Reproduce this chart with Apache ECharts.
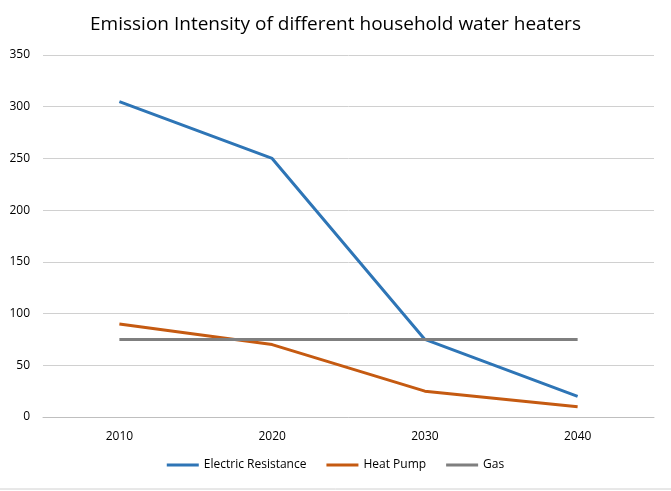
<!DOCTYPE html>
<html>
<head>
<meta charset="utf-8">
<script src="https://cdn.jsdelivr.net/npm/echarts@6/dist/echarts.min.js"></script>
</head>
<body style="margin: 0; padding: 0; background: #fff;">
<div id="chart" style="width: 671px; height: 491px;"></div>
<script>
  const years = ['2010', '2020', '2030', '2040']
  const electricResistance = [305, 250, 75, 20]
  const heatPump = [90, 70, 25, 10]
  const gas = [75, 75, 75, 75]

  const font = 'Open Sans, Liberation Sans, sans-serif'
  const chart = echarts.init(document.getElementById('chart'))

  const line = (name, data, color) => ({
    name,
    type: 'line',
    data,
    symbol: 'none',
    lineStyle: { color, width: 3 },
    itemStyle: { color }
  })

  chart.setOption({
    animation: false,
    title: {
      text: 'Emission Intensity of different household water heaters',
      left: 'center',
      top: 10,
      textStyle: { fontFamily: font, fontSize: 19, fontWeight: 'normal', color: '#000' }
    },
    grid: { left: 43, right: 17, top: 55, bottom: 74 },
    legend: {
      bottom: 15,
      left: 'center',
      itemWidth: 32,
      itemHeight: 3,
      itemGap: 20,
      icon: 'rect',
      textStyle: { fontFamily: font, fontSize: 12, color: '#000' },
      data: ['Electric Resistance', 'Heat Pump', 'Gas']
    },
    xAxis: {
      type: 'category',
      data: years,
      boundaryGap: true,
      axisLine: { lineStyle: { color: '#bfbfbf' } },
      axisTick: { show: false },
      axisLabel: { fontFamily: font, fontSize: 12, color: '#000', margin: 14 }
    },
    yAxis: {
      type: 'value',
      min: 0,
      max: 350,
      interval: 50,
      axisLine: { show: false },
      axisTick: { show: false },
      splitLine: { lineStyle: { color: '#d0d0d0' } },
      axisLabel: { fontFamily: font, fontSize: 12, color: '#000', margin: 13 }
    },
    series: [
      line('Electric Resistance', electricResistance, '#2e75b6'),
      line('Heat Pump', heatPump, '#c55a11'),
      line('Gas', gas, '#7f7f7f')
    ],
    graphic: [{
      type: 'line',
      shape: { x1: 0, y1: 489, x2: 671, y2: 489 },
      style: { stroke: '#d0d0d0', lineWidth: 1 }
    }]
  })
</script>
</body>
</html>
